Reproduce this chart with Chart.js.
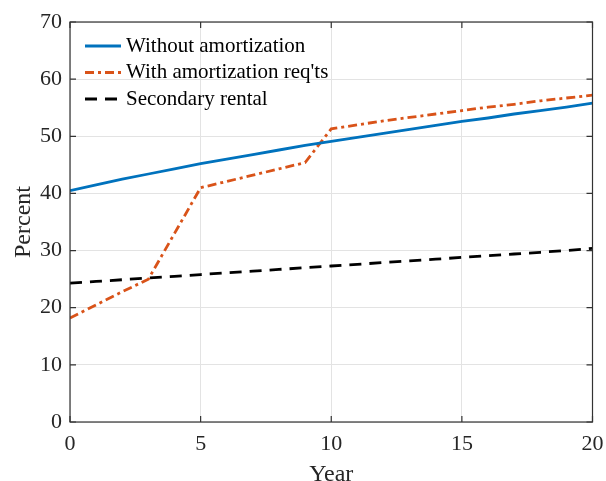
<!DOCTYPE html>
<html>
<head>
<meta charset="utf-8">
<script src="https://cdn.jsdelivr.net/npm/chart.js@4"></script>
<style>
  html, body { margin: 0; padding: 0; background: #fff; }
  #wrap { width: 606px; height: 481px; }
</style>
</head>
<body>
<div id="wrap"><canvas id="lineChart"></canvas></div>
<script>
const years = [0,1,2,3,4,5,6,7,8,9,10,11,12,13,14,15,16,17,18,19,20]
const semAmortizacao = [40.5,41.5,42.5,43.4,44.3,45.2,46.0,46.8,47.6,48.4,49.1,49.8,50.5,51.2,51.9,52.6,53.2,53.9,54.5,55.1,55.8]
const comAmortizacao = [18.2,20.5,22.8,25.0,33.0,41.0,42.1,43.2,44.3,45.4,51.3,52.0,52.7,53.3,53.9,54.5,55.1,55.6,56.2,56.7,57.2]
const aluguel = [24.3,24.6,24.9,25.2,25.5,25.8,26.1,26.4,26.7,27.0,27.3,27.6,27.9,28.2,28.5,28.8,29.1,29.4,29.7,30.0,30.4]
const labels = ["Without amortization", "With amortization req'ts", "Secondary rental"]
const xTicks = [0, 5, 10, 15, 20]
const yTicks = [0, 10, 20, 30, 40, 50, 60, 70]

const serif = "'Liberation Serif', 'DejaVu Serif', serif"
const eixo = "#333333"

function pontos(valores) {
    return years.map((ano, i) => ({ x: ano, y: valores[i] }))
}

// caixa em volta + ticks pra dentro, estilo matlab
const caixa = {
    id: "caixa",
    afterDraw(chart) {
        const ctx = chart.ctx
        const a = chart.chartArea
        const xs = chart.scales.x
        const ys = chart.scales.y
        ctx.save()
        ctx.strokeStyle = eixo
        ctx.lineWidth = 1.2
        ctx.strokeRect(a.left, a.top, a.right - a.left, a.bottom - a.top)
        ctx.beginPath()
        xTicks.forEach(v => {
            const px = xs.getPixelForValue(v)
            ctx.moveTo(px, a.bottom); ctx.lineTo(px, a.bottom - 6)
            ctx.moveTo(px, a.top); ctx.lineTo(px, a.top + 6)
        })
        yTicks.forEach(v => {
            const py = ys.getPixelForValue(v)
            ctx.moveTo(a.left, py); ctx.lineTo(a.left + 6, py)
            ctx.moveTo(a.right, py); ctx.lineTo(a.right - 6, py)
        })
        ctx.stroke()
        ctx.restore()
    }
}

// legenda dentro do grafico, sem caixa
const legenda = {
    id: "legenda",
    afterDraw(chart) {
        const ctx = chart.ctx
        const a = chart.chartArea
        ctx.save()
        ctx.font = "21px " + serif
        ctx.textBaseline = "middle"
        chart.data.datasets.forEach((ds, i) => {
            const y = a.top + 24 + i * 26.5
            ctx.strokeStyle = ds.borderColor
            ctx.lineWidth = ds.borderWidth
            ctx.setLineDash(ds.borderDash || [])
            ctx.beginPath()
            ctx.moveTo(a.left + 15, y)
            ctx.lineTo(a.left + 51, y)
            ctx.stroke()
            ctx.setLineDash([])
            ctx.fillStyle = "#000"
            ctx.fillText(ds.label, a.left + 56, y)
        })
        ctx.restore()
    }
}

const lineChart = new Chart(document.getElementById("lineChart"), {
    type: "line",
    data: {
        datasets: [{
            label: labels[0],
            data: pontos(semAmortizacao),
            borderColor: "#0072BD",
            borderWidth: 2.8,
            pointRadius: 0
        }, {
            label: labels[1],
            data: pontos(comAmortizacao),
            borderColor: "#D95319",
            borderWidth: 2.8,
            borderDash: [9, 4, 3, 4],
            pointRadius: 0
        }, {
            label: labels[2],
            data: pontos(aluguel),
            borderColor: "#000000",
            borderWidth: 2.8,
            borderDash: [12, 8],
            pointRadius: 0
        }]
    },
    options: {
        responsive: true,
        maintainAspectRatio: false,
        animation: false,
        layout: { padding: { top: 22, right: 13.5, left: 0, bottom: 0 } },
        plugins: {
            legend: { display: false },
            tooltip: { enabled: false }
        },
        scales: {
            x: {
                type: "linear",
                min: 0,
                max: 20,
                afterFit(scale) {
                    scale.height = 59
                    scale.paddingLeft = 0
                    scale.paddingRight = 0
                },
                afterBuildTicks(scale) { scale.ticks = xTicks.map(v => ({ value: v })) },
                grid: { color: "#e3e3e3", lineWidth: 1, drawTicks: false },
                border: { display: false },
                ticks: { color: "#262626", font: { family: serif, size: 22 }, padding: 9, maxRotation: 0 },
                title: { display: true, text: "Year", color: "#262626", font: { family: serif, size: 24 }, padding: { top: 0, bottom: -8 } }
            },
            y: {
                min: 0,
                max: 70,
                afterFit(scale) {
                    scale.width = 70
                    scale.paddingTop = 0
                    scale.paddingBottom = 0
                },
                afterBuildTicks(scale) { scale.ticks = yTicks.map(v => ({ value: v })) },
                grid: { color: "#e3e3e3", lineWidth: 1, drawTicks: false },
                border: { display: false },
                ticks: { color: "#262626", font: { family: serif, size: 22 }, padding: 8 },
                title: { display: true, text: "Percent", color: "#262626", font: { family: serif, size: 24 }, padding: { top: 9, bottom: 0 } }
            }
        }
    },
    plugins: [caixa, legenda]
})
</script>
</body>
</html>
